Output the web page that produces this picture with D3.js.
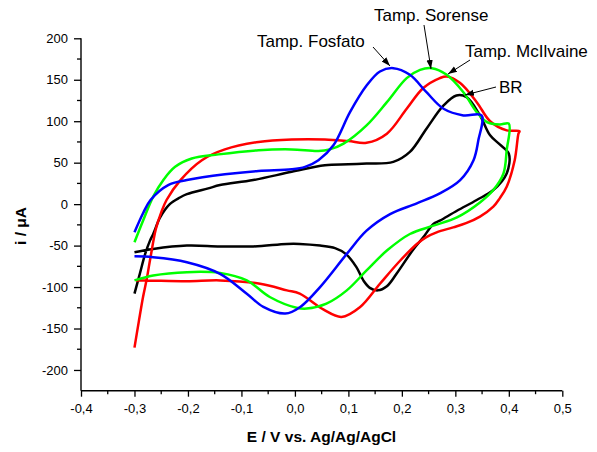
<!DOCTYPE html>
<html>
<head>
<meta charset="utf-8">
<script src="https://cdn.jsdelivr.net/npm/d3@7"></script>
<style>
  html, body { margin: 0; padding: 0; background: #fff; }
  svg { display: block; }
  text { font-family: "Liberation Sans", Arial, sans-serif; }
</style>
</head>
<body>
<svg id="chart" width="597" height="452"></svg>
<script>
// ---- Data (E in V, i in µA) ----
const xTicks = [-0.4, -0.3, -0.2, -0.1, 0.0, 0.1, 0.2, 0.3, 0.4, 0.5];
const yTicks = [-200, -150, -100, -50, 0, 50, 100, 150, 200];

const fosfato = [
  [-0.30,-34],[-0.284,-11],[-0.27,5],[-0.237,23],[-0.202,29],[-0.131,36],[-0.068,40],
  [-0.006,42],[0.019,45],[0.044,53],[0.072,71],[0.103,111],[0.134,143],[0.159,160],
  [0.184,164],[0.215,156],[0.246,135],[0.278,115],[0.315,107],[0.349,107],
  [0.343,77],[0.334,53],[0.309,29],[0.271,13],[0.228,1],[0.178,-12],[0.134,-32],
  [0.097,-60],[0.047,-100],[0.010,-124],[-0.018,-132],[-0.059,-124],[-0.090,-108],
  [-0.140,-84],[-0.202,-70],[-0.265,-64],[-0.30,-63]
];
const sorense = [
  [-0.30,-46],[-0.284,-20],[-0.265,9],[-0.245,30],[-0.224,45],[-0.193,55],[-0.143,60],
  [-0.068,65],[-0.006,66],[0.044,64],[0.065,66],[0.091,73],[0.134,95],[0.172,123],
  [0.209,152],[0.234,162],[0.256,164],[0.284,156],[0.315,135],[0.340,111],[0.359,99],
  [0.383,96],[0.40,97],
  [0.396,65],[0.390,37],[0.371,17],[0.346,2],[0.303,-16],[0.259,-26],[0.215,-36],
  [0.172,-56],[0.134,-80],[0.097,-104],[0.059,-120],[0.022,-126],[0.003,-125],
  [-0.047,-112],[-0.090,-92],[-0.140,-83],[-0.202,-82],[-0.265,-86],[-0.30,-92]
];
const mcilvaine = [
  [-0.30,-173],[-0.292,-142],[-0.284,-112],[-0.277,-90],[-0.270,-64],[-0.260,-30],
  [-0.250,-10],[-0.240,5],[-0.214,29],[-0.174,53],[-0.131,66],[-0.068,75],[-0.006,78],
  [0.056,78],[0.100,76],[0.134,74],[0.172,85],[0.209,115],[0.240,140],[0.271,152],
  [0.284,154],[0.309,146],[0.340,123],[0.365,100],[0.396,89],[0.42,88],
  [0.418,85],[0.411,53],[0.396,21],[0.383,7],[0.371,-3],[0.346,-15],[0.320,-23],
  [0.296,-28],[0.265,-34],[0.245,-40],[0.228,-48],[0.197,-68],[0.159,-96],[0.122,-124],
  [0.087,-136],[0.053,-127],[0.009,-108],[-0.015,-104],[-0.065,-96],[-0.140,-92],
  [-0.202,-93],[-0.277,-92],[-0.297,-92]
];
const br = [
  [-0.30,-108],[-0.290,-84],[-0.280,-60],[-0.271,-44],[-0.265,-36],[-0.252,-16],
  [-0.234,0],[-0.215,8],[-0.202,12],[-0.162,19],[-0.140,23],[-0.078,29],[-0.006,39],
  [0.056,47],[0.100,48],[0.134,49],[0.184,51],[0.215,63],[0.246,91],[0.278,119],
  [0.302,131],[0.321,129],[0.346,107],[0.365,83],[0.383,72],[0.40,61],
  [0.396,37],[0.371,17],[0.340,5],[0.303,-8],[0.271,-20],[0.259,-24],[0.240,-40],
  [0.221,-55],[0.190,-84],[0.172,-99],[0.155,-104],[0.140,-101],[0.128,-92],
  [0.115,-76],[0.095,-60],[0.075,-53],[0.047,-50],[0.009,-48],[-0.015,-48],
  [-0.078,-51],[-0.140,-51],[-0.202,-50],[-0.265,-54],[-0.30,-58]
];

const seriesNames = ["BR", "Tamp. McIlvaine", "Tamp. Sorense", "Tamp. Fosfato"];
const seriesColors = ["#000000", "#ff0000", "#00ff00", "#0000ff"];
const seriesData = [br, mcilvaine, sorense, fosfato];

// annotation labels: [text, x, y(baseline), arrow tail x, tail y, head x, head y]
const annotations = [
  ["Tamp. Fosfato", 257, 47, 373, 47, 390, 66],
  ["Tamp. Sorense", 374, 21, 424, 25, 431, 69],
  ["Tamp. McIlvaine", 465, 57, 470, 60, 448, 74],
  ["BR", 499, 93, 496, 87, 465, 95]
];

// ---- Layout ----
const svg = d3.select("#chart");
const x = d3.scaleLinear().domain([-0.4, 0.5]).range([81, 562.3]);
const y = d3.scaleLinear().domain([-225, 200]).range([390.7, 38.3]);

const fmtX = v => d3.format(".1f")(v).replace(".", ",").replace("\u2212", "-");
const fmtY = v => String(v).replace("\u2212", "-");

// minor ticks
const xMinor = d3.range(-0.35, 0.5, 0.1);
const yMinor = d3.range(-175, 200, 50);

const gx = svg.append("g").attr("transform", `translate(0,${y(-225)})`);
gx.call(d3.axisBottom(x).tickValues(xTicks).tickFormat(fmtX).tickSize(6).tickPadding(7).tickSizeOuter(0));
gx.append("g").selectAll("line").data(xMinor).join("line")
  .attr("x1", d => x(d)).attr("x2", d => x(d)).attr("y1", 0).attr("y2", 3.5)
  .attr("stroke", "#000").attr("stroke-width", 1.3);

const gy = svg.append("g").attr("transform", `translate(${x(-0.4)},0)`);
gy.call(d3.axisLeft(y).tickValues(yTicks).tickFormat(fmtY).tickSize(7).tickPadding(6).tickSizeOuter(0));
gy.append("g").selectAll("line").data(yMinor).join("line")
  .attr("y1", d => y(d)).attr("y2", d => y(d)).attr("x1", 0).attr("x2", -4)
  .attr("stroke", "#000").attr("stroke-width", 1.3);

[gx, gy].forEach(g => {
  g.select(".domain").attr("stroke-width", 1.4);
  g.selectAll(".tick line").attr("stroke-width", 1.3);
  g.selectAll("text").attr("font-size", 13).attr("fill", "#000")
    .attr("font-family", "'Liberation Sans', Arial, sans-serif");
});
gy.select(".domain").attr("d", `M0,${y(200)}V${y(-225)}`);
gx.select(".domain").attr("d", `M${x(-0.4)},0H${x(0.5)}`);

// axis titles
svg.append("text").attr("x", 321.5).attr("y", 442).attr("text-anchor", "middle")
  .attr("font-weight", "bold").attr("font-size", 15.5).text("E / V vs. Ag/Ag/AgCl");
svg.append("text").attr("transform", "translate(26,226) rotate(-90)")
  .attr("text-anchor", "middle").attr("font-weight", "bold").attr("font-size", 15.5)
  .text("i / μA");

// curves
const line = d3.line().x(d => x(d[0])).y(d => y(d[1])).curve(d3.curveCatmullRom.alpha(0.5));
svg.append("g").selectAll("path").data(seriesData).join("path")
  .attr("d", d => line(d))
  .attr("fill", "none")
  .attr("stroke", (d, i) => seriesColors[i])
  .attr("stroke-width", 2.5)
  .attr("stroke-linejoin", "round");

// arrows
svg.append("defs").append("marker")
  .attr("id", "ah").attr("viewBox", "0 0 10 10").attr("refX", 10).attr("refY", 5)
  .attr("markerWidth", 9).attr("markerHeight", 9).attr("markerUnits", "userSpaceOnUse")
  .attr("orient", "auto")
  .append("path").attr("d", "M0,1.5L10,5L0,8.5Z").attr("fill", "#000");

const ga = svg.append("g");
ga.selectAll("line").data(annotations).join("line")
  .attr("x1", d => d[3]).attr("y1", d => d[4]).attr("x2", d => d[5]).attr("y2", d => d[6])
  .attr("stroke", "#000").attr("stroke-width", 1).attr("marker-end", "url(#ah)");
ga.selectAll("text").data(annotations).join("text")
  .attr("x", d => d[1]).attr("y", d => d[2]).attr("font-size", 17).attr("fill", "#000")
  .text(d => d[0]);
</script>
</body>
</html>
